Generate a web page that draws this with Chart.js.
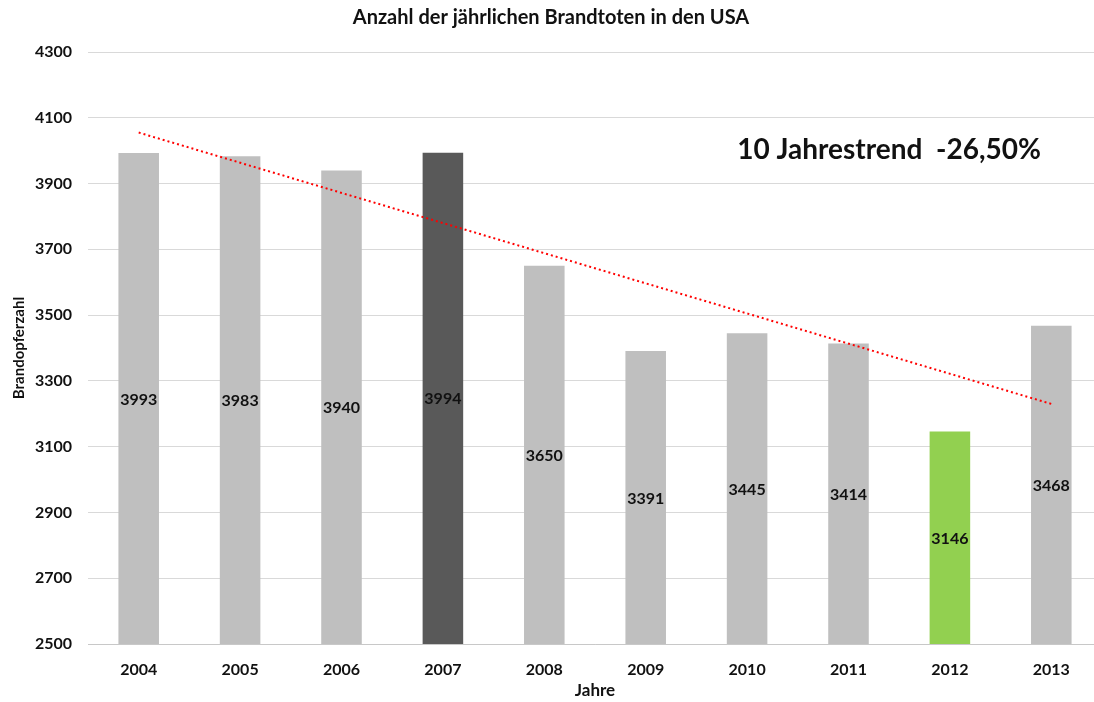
<!DOCTYPE html>
<html lang="de">
<head>
<meta charset="utf-8">
<title>Brandtote USA</title>
<script src="https://cdn.jsdelivr.net/npm/chart.js@4"></script>
<style>
    html, body { margin: 0; padding: 0; background: #fff; overflow: hidden; }
    #wrap { width: 1104px; height: 702px; position: relative; }
</style>
</head>
<body>
<div id="wrap"><canvas id="brandChart"></canvas></div>
<script>
// Jahre und Brandtote
const years = ['2004', '2005', '2006', '2007', '2008', '2009', '2010', '2011', '2012', '2013'];
const deaths = [3993, 3983, 3940, 3994, 3650, 3391, 3445, 3414, 3146, 3468];
// linearer Trend, nur Anfangs- und Endpunkt
const trend = [4055, null, null, null, null, null, null, null, null, 3230];
const yTicks = [2500, 2700, 2900, 3100, 3300, 3500, 3700, 3900, 4100, 4300];

const FONT = 'Lato, "Open Sans", sans-serif';

const barColors = years.map(function(y) {
    if (y === '2007') return '#595959';
    if (y === '2012') return '#92d050';
    return '#bfbfbf';
});

// Werte mittig in die Balken schreiben + Trend-Beschriftung
const labelPlugin = {
    id: 'barLabels',
    afterDraw: function(chart) {
        const ctx = chart.ctx;
        const yScale = chart.scales.y;
        const xScale = chart.scales.x;
        ctx.save();
        ctx.font = 'bold 16px ' + FONT;
        ctx.fillStyle = '#111';
        ctx.textAlign = 'center';
        ctx.textBaseline = 'middle';
        deaths.forEach(function(v, i) {
            const x = xScale.getPixelForValue(i);
            const top = yScale.getPixelForValue(v);
            const bottom = yScale.getPixelForValue(yScale.min);
            ctx.fillText(String(v), x, (top + bottom) / 2 + 1);
        });

        const area = chart.chartArea;
        ctx.font = 'bold 28px ' + FONT;
        ctx.fillText('10 Jahrestrend  -26,50%', area.left + area.width * 0.79, yScale.getPixelForValue(4002));
        ctx.restore();
    }
};

const chartConfig = {
    data: {
        labels: years,
        datasets: [{
            type: 'bar',
            label: 'Brandopferzahl',
            data: deaths,
            backgroundColor: barColors,
            borderWidth: 0,
            categoryPercentage: 0.8,
            barPercentage: 0.5,
            order: 2
        }, {
            type: 'line',
            label: 'Trend',
            data: trend,
            spanGaps: true,
            borderColor: '#ff0000',
            borderWidth: 2,
            borderDash: [2, 3],
            pointRadius: 0,
            fill: false,
            order: 1
        }]
    },
    options: {
        responsive: true,
        maintainAspectRatio: false,
        animation: false,
        layout: { padding: { left: 0, right: 2, top: 0, bottom: 0 } },
        plugins: {
            legend: { display: false },
            tooltip: { enabled: false },
            title: {
                display: true,
                text: 'Anzahl der jährlichen Brandtoten in den USA',
                color: '#111',
                font: { family: FONT, size: 20, weight: 'bold' },
                padding: { top: 6, bottom: 22 }
            }
        },
        scales: {
            x: {
                grid: { display: false, drawTicks: false },
                border: { display: true, color: '#c8c8c8', width: 1 },
                ticks: {
                    color: '#111',
                    padding: 16,
                    font: { family: FONT, size: 16, weight: 'bold' }
                },
                title: {
                    display: true,
                    text: 'Jahre',
                    color: '#111',
                    font: { family: FONT, size: 17, weight: 'bold' },
                    padding: { top: 0, bottom: 1 }
                },
                afterFit: function(scale) { scale.height = 58; }
            },
            y: {
                min: 2500,
                max: 4300,
                afterBuildTicks: function(scale) {
                    scale.ticks = yTicks.map(function(v) { return { value: v }; });
                },
                grid: { color: '#d9d9d9', lineWidth: 1, drawTicks: false },
                border: { display: false },
                ticks: {
                    color: '#111',
                    padding: 16,
                    font: { family: FONT, size: 16, weight: 'bold' },
                    callback: function(v) { return String(v); }
                },
                title: {
                    display: true,
                    text: 'Brandopferzahl',
                    color: '#111',
                    font: { family: FONT, size: 15, weight: 'bold' },
                    padding: { top: 10, bottom: 0 }
                },
                afterFit: function(scale) { scale.width = 88; }
            }
        }
    },
    plugins: [labelPlugin]
};

new Chart(document.getElementById('brandChart'), chartConfig);
</script>
</body>
</html>
